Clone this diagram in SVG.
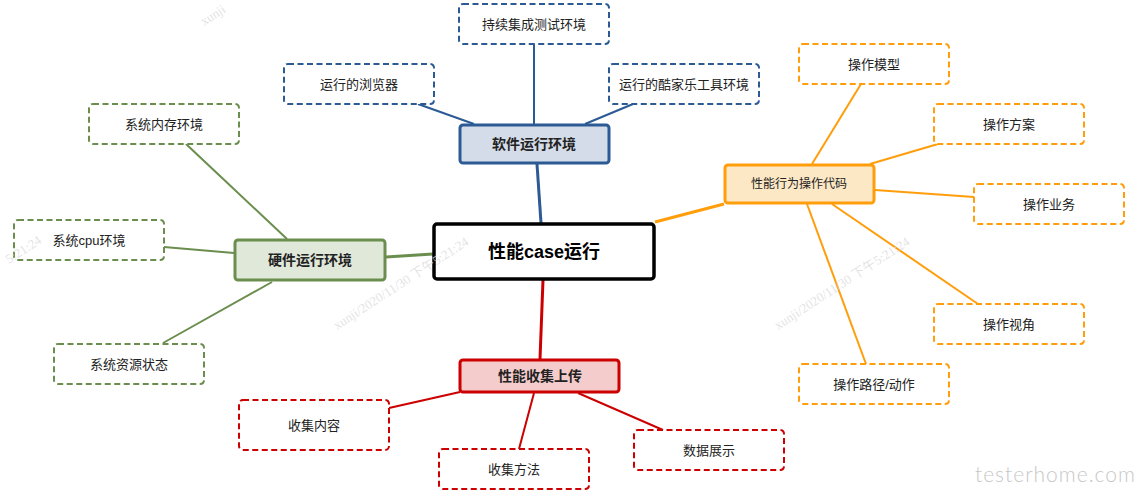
<svg xmlns="http://www.w3.org/2000/svg" width="1137" height="499" viewBox="0 0 1137 499">
<style>
  text { font-family: "Liberation Sans", "Noto Sans CJK SC", sans-serif; text-anchor: middle; dominant-baseline: central; fill: #222; }
  .t { font-size: 13px; }
  .tb { font-size: 14px; font-weight: bold; }
  .child { fill: #fff; stroke-width: 2; stroke-dasharray: 6 3.5; }
  .main { stroke-width: 3; }
  .blue { stroke: #2b5a94; }
  .green { stroke: #6b8e4e; }
  .orange { stroke: #ff9d0a; }
  .red { stroke: #cc0000; }
  .wm { font-family: "Liberation Serif", "Noto Sans CJK SC", serif; font-size: 13px; fill: #dcdcdc; fill-opacity: 0.8; text-anchor: start; dominant-baseline: auto; }
  #connectors line { fill: none; }
  .cl { stroke-width: 2; }
  .ml { stroke-width: 3; }
</style>
<rect width="1137" height="499" fill="#fff"/>

<g id="connectors">
  <line class="ml blue" x1="541" y1="223" x2="537" y2="164"/>
  <line class="cl blue" x1="534" y1="44" x2="534" y2="124"/>
  <line class="cl blue" x1="418" y1="104" x2="474" y2="124"/>
  <line class="cl blue" x1="633" y1="104" x2="585" y2="124"/>

  <line class="ml green" x1="433" y1="254" x2="386" y2="257"/>
  <line class="cl green" x1="186" y1="144" x2="287" y2="239"/>
  <line class="cl green" x1="164" y1="247" x2="234" y2="253"/>
  <line class="cl green" x1="163" y1="343" x2="272" y2="282"/>

  <line class="ml orange" x1="655" y1="222" x2="724" y2="204"/>
  <line class="cl orange" x1="861" y1="84" x2="812" y2="164"/>
  <line class="cl orange" x1="938" y1="144" x2="870" y2="164"/>
  <line class="cl orange" x1="974" y1="197" x2="875" y2="190"/>
  <line class="cl orange" x1="978" y1="304" x2="832" y2="204"/>
  <line class="cl orange" x1="866" y1="364" x2="807" y2="204"/>

  <line class="ml red" x1="543" y1="280" x2="540" y2="359"/>
  <line class="cl red" x1="389" y1="408" x2="460" y2="392"/>
  <line class="cl red" x1="519" y1="449" x2="534" y2="393"/>
  <line class="cl red" x1="663" y1="430" x2="578" y2="393"/>
</g>

<g id="center">
  <rect x="434" y="224" width="220" height="55" rx="3" fill="#fff" stroke="#000" stroke-width="3.5"/>
  <text x="544" y="252" style="font-size:18px;font-weight:bold;fill:#000;">性能case运行</text>
</g>

<g id="software">
  <rect x="460" y="125" width="149" height="38" rx="3" fill="#d3dce8" class="main blue"/>
  <text class="tb" x="534" y="144">软件运行环境</text>
</g>
<g id="sw-ci">
  <rect x="459" y="4" width="150" height="40" rx="4" class="child blue"/>
  <text class="t" x="534" y="24">持续集成测试环境</text>
</g>
<g id="sw-browser">
  <rect x="284" y="64" width="150" height="40" rx="4" class="child blue"/>
  <text class="t" x="359" y="84">运行的浏览器</text>
</g>
<g id="sw-kujiale">
  <rect x="609" y="64" width="150" height="40" rx="4" class="child blue"/>
  <text class="t" x="684" y="84">运行的酷家乐工具环境</text>
</g>

<g id="hardware">
  <rect x="235" y="240" width="150" height="40" rx="3" fill="#e0e8d9" class="main green"/>
  <text class="tb" x="310" y="260">硬件运行环境</text>
</g>
<g id="hw-mem">
  <rect x="89" y="104" width="150" height="40" rx="4" class="child green"/>
  <text class="t" x="164" y="124">系统内存环境</text>
</g>
<g id="hw-cpu">
  <rect x="14" y="220" width="150" height="40" rx="4" class="child green"/>
  <text class="t" x="89" y="240">系统cpu环境</text>
</g>
<g id="hw-res">
  <rect x="54" y="344" width="150" height="40" rx="4" class="child green"/>
  <text class="t" x="129" y="364">系统资源状态</text>
</g>

<g id="behavior">
  <rect x="725" y="165" width="149" height="38" rx="3" fill="#fde8c6" class="main orange"/>
  <text x="799" y="184" style="font-size:12px;">性能行为操作代码</text>
</g>
<g id="op-model">
  <rect x="799" y="44" width="150" height="40" rx="4" class="child orange"/>
  <text class="t" x="874" y="64">操作模型</text>
</g>
<g id="op-plan">
  <rect x="934" y="104" width="150" height="40" rx="4" class="child orange"/>
  <text class="t" x="1009" y="124">操作方案</text>
</g>
<g id="op-biz">
  <rect x="974" y="184" width="150" height="40" rx="4" class="child orange"/>
  <text class="t" x="1049" y="204">操作业务</text>
</g>
<g id="op-view">
  <rect x="934" y="304" width="150" height="40" rx="4" class="child orange"/>
  <text class="t" x="1009" y="324">操作视角</text>
</g>
<g id="op-path">
  <rect x="799" y="364" width="150" height="40" rx="4" class="child orange"/>
  <text class="t" x="874" y="384">操作路径/动作</text>
</g>

<g id="collect">
  <rect x="460" y="360" width="159" height="32" rx="3" fill="#f4cccc" class="main red"/>
  <text class="tb" x="540" y="376">性能收集上传</text>
</g>
<g id="col-content">
  <rect x="239" y="400" width="150" height="50" rx="4" class="child red"/>
  <text class="t" x="314" y="425">收集内容</text>
</g>
<g id="col-method">
  <rect x="439" y="449" width="150" height="40" rx="4" class="child red"/>
  <text class="t" x="514" y="469">收集方法</text>
</g>
<g id="col-display">
  <rect x="634" y="430" width="150" height="40" rx="4" class="child red"/>
  <text class="t" x="709" y="450">数据展示</text>
</g>

<!-- watermarks (overlay) -->
<g id="watermarks">
  <text class="wm" transform="translate(9,264) rotate(-33)">5:21:24</text>
  <text class="wm" transform="translate(337,330) rotate(-33)">xunji/2020/11/30 下午5:21:24</text>
  <text class="wm" transform="translate(778,330) rotate(-33)">xunji/2020/11/30 下午5:21:24</text>
  <text class="wm" transform="translate(204,26) rotate(-33)">xunji</text>
  <text x="975" y="473" style="font-family: Lato, 'DejaVu Sans', sans-serif; font-weight: 300; font-size: 21px; fill: #c8c8c8; letter-spacing: 1px; text-anchor: start;">testerhome.com</text>
</g>
</svg>
